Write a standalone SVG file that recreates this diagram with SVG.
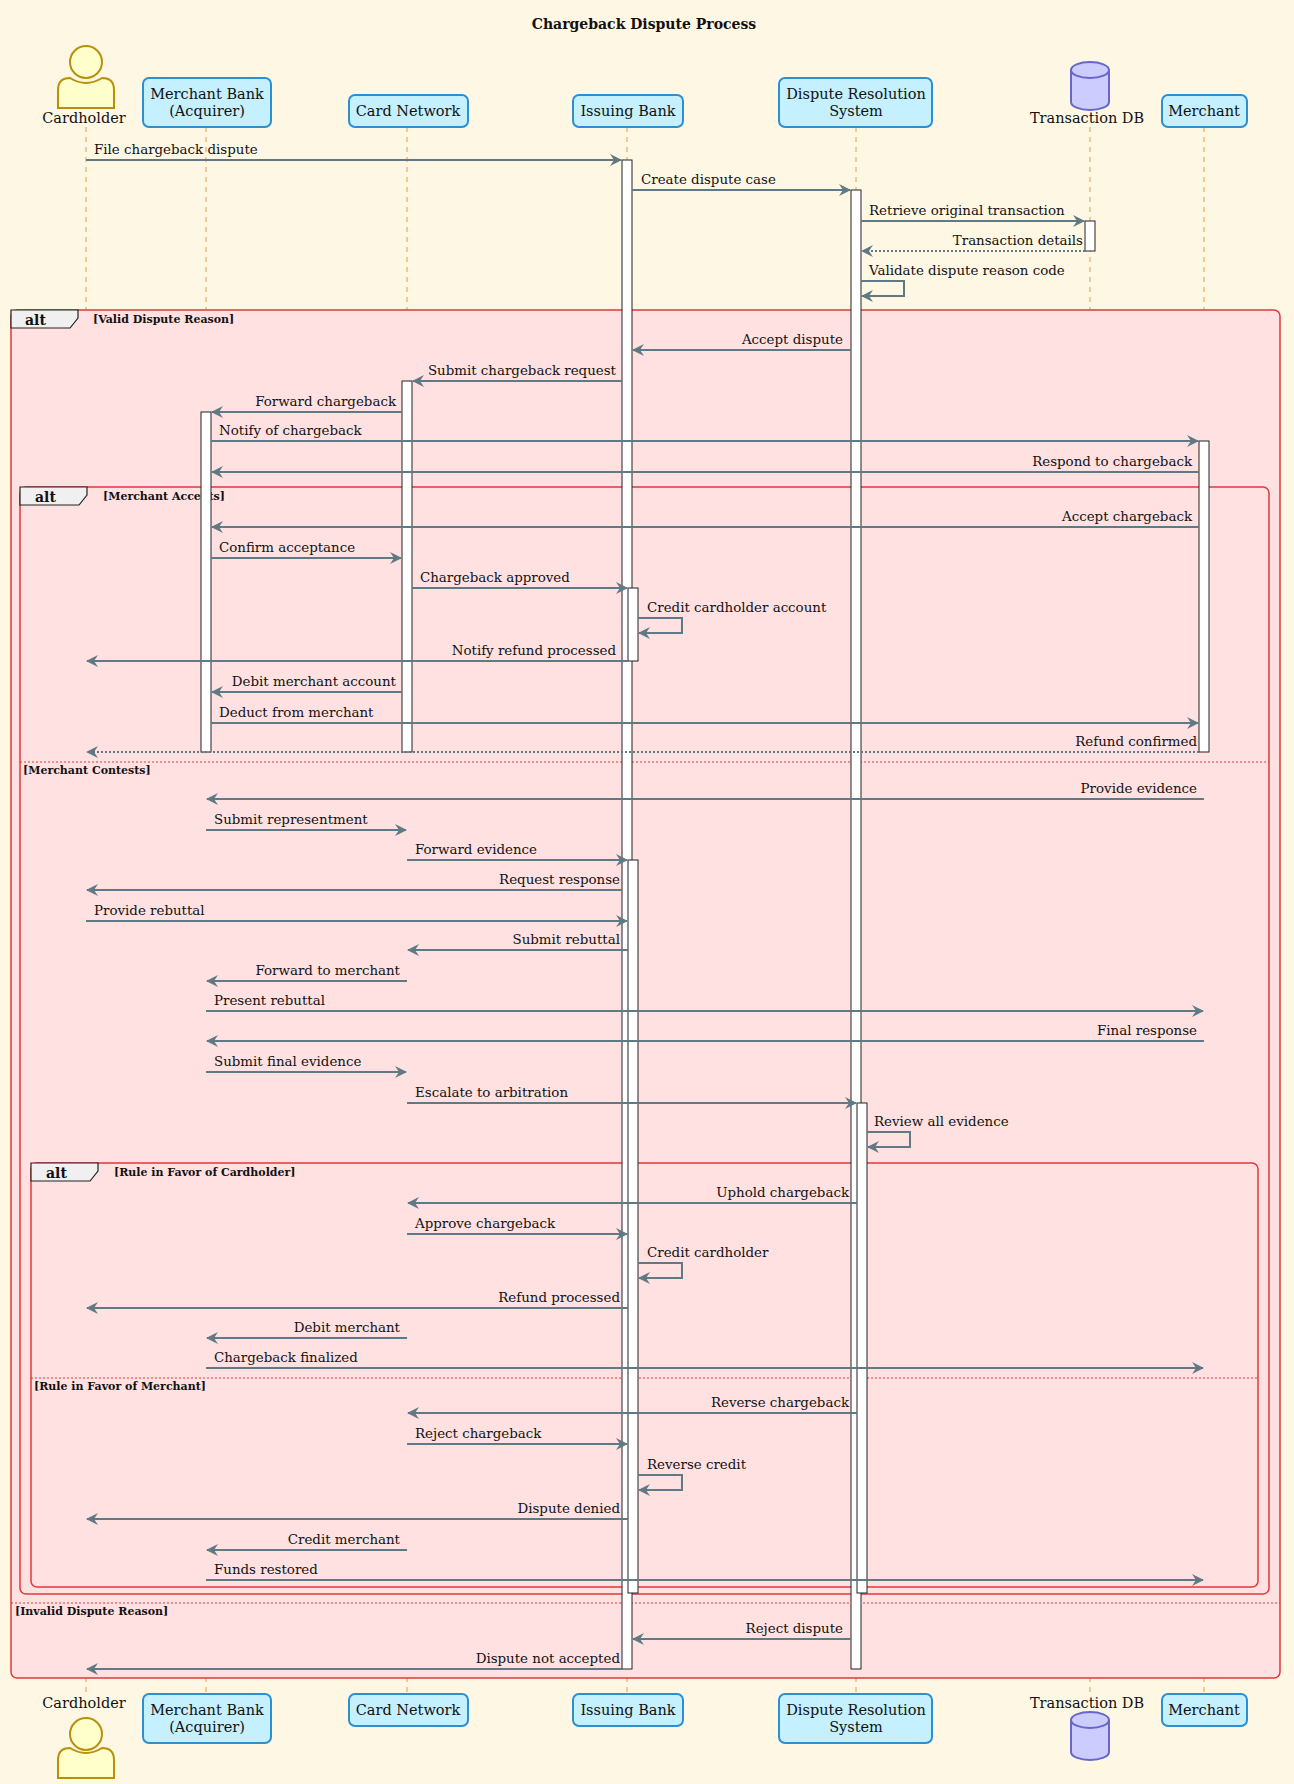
<svg xmlns="http://www.w3.org/2000/svg" width="1294" height="1784" viewBox="0 0 1294 1784">
<style>
text{font-family:"DejaVu Serif","Liberation Serif",serif;fill:#111}
.m{font-size:13.4px}
.r{text-anchor:end}
.c{text-anchor:middle;font-size:14.5px}
.ll{stroke:#E0A040;stroke-width:1;stroke-dasharray:5,5}
.p{fill:#C5F0FF;stroke:#2B8FD6;stroke-width:2}
.a{stroke:#5F7A85;stroke-width:2;fill:none;marker-end:url(#ah)}
.d{stroke-dasharray:2,2}
.act{fill:#fff;stroke:#222;stroke-width:1}
.fr{fill:#FFE1E1;stroke:#E0393A;stroke-width:1.5}
.fr2{fill:none;stroke:#E0393A;stroke-width:1.5}
.sep{stroke:#E0393A;stroke-width:1;stroke-dasharray:2,2}
.g{font-size:11px;font-weight:bold}
.t{font-size:14px;font-weight:bold}
.tab{fill:#F0F0F0;stroke:#222;stroke-width:1.2}
</style>
<defs>
<marker id="ah" viewBox="0 0 12 12" refX="11" refY="6" markerWidth="12" markerHeight="12" markerUnits="userSpaceOnUse" orient="auto"><path d="M0,0 L12,6 L0,12 L4,6 Z" fill="#5F7A85"/></marker>
</defs>
<rect width="1294" height="1784" fill="#FEF7E4"/>
<text x="644" y="29" text-anchor="middle" font-size="14" font-weight="bold">Chargeback Dispute Process</text>
<g id="lifelines">
<line class="ll" x1="86" y1="127" x2="86" y2="1694"/><line class="ll" x1="206" y1="127" x2="206" y2="1694"/><line class="ll" x1="407" y1="127" x2="407" y2="1694"/><line class="ll" x1="627" y1="127" x2="627" y2="1694"/><line class="ll" x1="856" y1="127" x2="856" y2="1694"/><line class="ll" x1="1090" y1="127" x2="1090" y2="1694"/><line class="ll" x1="1204" y1="127" x2="1204" y2="1694"/>
</g>
<g id="frames">
<rect class="fr" x="11" y="310" width="1269" height="1368" rx="6"/>
<rect class="fr2" x="20" y="487" width="1249" height="1107" rx="6"/>
<rect class="fr2" x="31" y="1163" width="1227" height="424" rx="6"/>
<path class="tab" d="M11,310 H78 V318 L70,328 H11 Z"/><text x="25" y="325" class="t">alt</text><text x="93" y="323" class="g">[Valid Dispute Reason]</text>
<path class="tab" d="M20,487 H87 V495 L79,505 H20 Z"/><text x="35" y="502" class="t">alt</text><text x="103" y="500" class="g">[Merchant Accepts]</text>
<path class="tab" d="M31,1163 H98 V1171 L90,1181 H31 Z"/><text x="46" y="1178" class="t">alt</text><text x="114" y="1176" class="g">[Rule in Favor of Cardholder]</text>
<line class="sep" x1="20" y1="762" x2="1269" y2="762"/><text x="23" y="774" class="g">[Merchant Contests]</text>
<line class="sep" x1="31" y1="1378" x2="1258" y2="1378"/><text x="34" y="1390" class="g">[Rule in Favor of Merchant]</text>
<line class="sep" x1="11" y1="1603" x2="1280" y2="1603"/><text x="15" y="1615" class="g">[Invalid Dispute Reason]</text>
</g>
<g id="activations">
<rect class="act" x="622" y="160" width="10" height="1509"/>
<rect class="act" x="851" y="190" width="10" height="1479"/>
<rect class="act" x="1085" y="221" width="10" height="30"/>
<rect class="act" x="402" y="381" width="10" height="371"/>
<rect class="act" x="201" y="412" width="10" height="340"/>
<rect class="act" x="1199" y="441" width="10" height="311"/>
<rect class="act" x="628" y="588" width="10" height="73"/>
<rect class="act" x="628" y="860" width="10" height="733"/>
<rect class="act" x="857" y="1103" width="10" height="490"/>
</g>
<g id="connectors">
<line class="a" x1="86" y1="160" x2="621" y2="160"/><text class="m" x="94" y="154">File chargeback dispute</text>
<line class="a" x1="632" y1="190" x2="850" y2="190"/><text class="m" x="641" y="184">Create dispute case</text>
<line class="a" x1="861" y1="221" x2="1084" y2="221"/><text class="m" x="869" y="215">Retrieve original transaction</text>
<line class="a d" x1="1085" y1="251" x2="862" y2="251"/><text class="m r" x="1083" y="245">Transaction details</text>
<path class="a" d="M861,281 H904 V296 H862"/><text class="m" x="869" y="275">Validate dispute reason code</text>
<line class="a" x1="851" y1="350" x2="633" y2="350"/><text class="m r" x="843" y="344">Accept dispute</text>
<line class="a" x1="622" y1="381" x2="413" y2="381"/><text class="m r" x="616" y="375">Submit chargeback request</text>
<line class="a" x1="402" y1="412" x2="212" y2="412"/><text class="m r" x="396" y="406">Forward chargeback</text>
<line class="a" x1="211" y1="441" x2="1198" y2="441"/><text class="m" x="219" y="435">Notify of chargeback</text>
<line class="a" x1="1199" y1="472" x2="212" y2="472"/><text class="m r" x="1192" y="466">Respond to chargeback</text>
<line class="a" x1="1199" y1="527" x2="212" y2="527"/><text class="m r" x="1192" y="521">Accept chargeback</text>
<line class="a" x1="211" y1="558" x2="401" y2="558"/><text class="m" x="219" y="552">Confirm acceptance</text>
<line class="a" x1="412" y1="588" x2="627" y2="588"/><text class="m" x="420" y="582">Chargeback approved</text>
<path class="a" d="M638,618 H682 V633 H639"/><text class="m" x="647" y="612">Credit cardholder account</text>
<line class="a" x1="628" y1="661" x2="87" y2="661"/><text class="m r" x="616" y="655">Notify refund processed</text>
<line class="a" x1="402" y1="692" x2="212" y2="692"/><text class="m r" x="396" y="686">Debit merchant account</text>
<line class="a" x1="211" y1="723" x2="1198" y2="723"/><text class="m" x="219" y="717">Deduct from merchant</text>
<line class="a d" x1="1199" y1="752" x2="87" y2="752"/><text class="m r" x="1197" y="746">Refund confirmed</text>
<line class="a" x1="1204" y1="799" x2="207" y2="799"/><text class="m r" x="1197" y="793">Provide evidence</text>
<line class="a" x1="206" y1="830" x2="406" y2="830"/><text class="m" x="214" y="824">Submit representment</text>
<line class="a" x1="407" y1="860" x2="627" y2="860"/><text class="m" x="415" y="854">Forward evidence</text>
<line class="a" x1="622" y1="890" x2="87" y2="890"/><text class="m r" x="620" y="884">Request response</text>
<line class="a" x1="86" y1="921" x2="627" y2="921"/><text class="m" x="94" y="915">Provide rebuttal</text>
<line class="a" x1="628" y1="950" x2="408" y2="950"/><text class="m r" x="620" y="944">Submit rebuttal</text>
<line class="a" x1="407" y1="981" x2="207" y2="981"/><text class="m r" x="400" y="975">Forward to merchant</text>
<line class="a" x1="206" y1="1011" x2="1203" y2="1011"/><text class="m" x="214" y="1005">Present rebuttal</text>
<line class="a" x1="1204" y1="1041" x2="207" y2="1041"/><text class="m r" x="1197" y="1035">Final response</text>
<line class="a" x1="206" y1="1072" x2="406" y2="1072"/><text class="m" x="214" y="1066">Submit final evidence</text>
<line class="a" x1="407" y1="1103" x2="856" y2="1103"/><text class="m" x="415" y="1097">Escalate to arbitration</text>
<path class="a" d="M867,1132 H910 V1147 H868"/><text class="m" x="874" y="1126">Review all evidence</text>
<line class="a" x1="857" y1="1203" x2="408" y2="1203"/><text class="m r" x="849" y="1197">Uphold chargeback</text>
<line class="a" x1="407" y1="1234" x2="627" y2="1234"/><text class="m" x="415" y="1228">Approve chargeback</text>
<path class="a" d="M638,1263 H682 V1278 H639"/><text class="m" x="647" y="1257">Credit cardholder</text>
<line class="a" x1="628" y1="1308" x2="87" y2="1308"/><text class="m r" x="620" y="1302">Refund processed</text>
<line class="a" x1="407" y1="1338" x2="207" y2="1338"/><text class="m r" x="400" y="1332">Debit merchant</text>
<line class="a" x1="206" y1="1368" x2="1203" y2="1368"/><text class="m" x="214" y="1362">Chargeback finalized</text>
<line class="a" x1="857" y1="1413" x2="408" y2="1413"/><text class="m r" x="849" y="1407">Reverse chargeback</text>
<line class="a" x1="407" y1="1444" x2="627" y2="1444"/><text class="m" x="415" y="1438">Reject chargeback</text>
<path class="a" d="M638,1475 H682 V1490 H639"/><text class="m" x="647" y="1469">Reverse credit</text>
<line class="a" x1="628" y1="1519" x2="87" y2="1519"/><text class="m r" x="620" y="1513">Dispute denied</text>
<line class="a" x1="407" y1="1550" x2="207" y2="1550"/><text class="m r" x="400" y="1544">Credit merchant</text>
<line class="a" x1="206" y1="1580" x2="1203" y2="1580"/><text class="m" x="214" y="1574">Funds restored</text>
<line class="a" x1="851" y1="1639" x2="633" y2="1639"/><text class="m r" x="843" y="1633">Reject dispute</text>
<line class="a" x1="622" y1="1669" x2="87" y2="1669"/><text class="m r" x="620" y="1663">Dispute not accepted</text>
</g>
<g id="cardholder">
<circle cx="86" cy="62" r="16" fill="#FFFFCC" stroke="#B8900A" stroke-width="2"/>
<path d="M58,108 V90 Q58,78 70,78 Q86,88 102,78 Q114,78 114,90 V108 Z" fill="#FFFFCC" stroke="#B8900A" stroke-width="2"/>
<text class="c" x="84" y="123">Cardholder</text>
<circle cx="86" cy="1734" r="16" fill="#FFFFCC" stroke="#B8900A" stroke-width="2"/>
<path d="M58,1778 V1760 Q58,1748 70,1748 Q86,1758 102,1748 Q114,1748 114,1760 V1778 Z" fill="#FFFFCC" stroke="#B8900A" stroke-width="2"/>
<text class="c" x="84" y="1708">Cardholder</text>
</g>
<g id="merchantbank">
<rect class="p" x="143" y="78" width="128" height="49" rx="6"/><text class="c" x="207" y="99">Merchant Bank</text><text class="c" x="207" y="116">(Acquirer)</text>
<rect class="p" x="143" y="1694" width="128" height="49" rx="6"/><text class="c" x="207" y="1715">Merchant Bank</text><text class="c" x="207" y="1732">(Acquirer)</text>
</g>
<g id="cardnetwork">
<rect class="p" x="349" y="95" width="119" height="32" rx="6"/><text class="c" x="408" y="116">Card Network</text>
<rect class="p" x="349" y="1694" width="119" height="32" rx="6"/><text class="c" x="408" y="1715">Card Network</text>
</g>
<g id="issuingbank">
<rect class="p" x="573" y="95" width="110" height="32" rx="6"/><text class="c" x="628" y="116">Issuing Bank</text>
<rect class="p" x="573" y="1694" width="110" height="32" rx="6"/><text class="c" x="628" y="1715">Issuing Bank</text>
</g>
<g id="drs">
<rect class="p" x="779" y="78" width="153" height="49" rx="6"/><text class="c" x="856" y="99">Dispute Resolution</text><text class="c" x="856" y="116">System</text>
<rect class="p" x="779" y="1694" width="153" height="49" rx="6"/><text class="c" x="856" y="1715">Dispute Resolution</text><text class="c" x="856" y="1732">System</text>
</g>
<g id="transactiondb">
<path d="M1071,70 V102 A19,8 0 0 0 1109,102 V70 A19,8 0 0 0 1071,70 A19,8 0 0 0 1109,70" fill="#CCCCFF" stroke="#6666CC" stroke-width="2"/>
<text class="c" x="1087" y="123">Transaction DB</text>
<path d="M1071,1720 V1752 A19,8 0 0 0 1109,1752 V1720 A19,8 0 0 0 1071,1720 A19,8 0 0 0 1109,1720" fill="#CCCCFF" stroke="#6666CC" stroke-width="2"/>
<text class="c" x="1087" y="1708">Transaction DB</text>
</g>
<g id="merchant">
<rect class="p" x="1162" y="95" width="85" height="32" rx="6"/><text class="c" x="1204" y="116">Merchant</text>
<rect class="p" x="1162" y="1694" width="85" height="32" rx="6"/><text class="c" x="1204" y="1715">Merchant</text>
</g>
</svg>
